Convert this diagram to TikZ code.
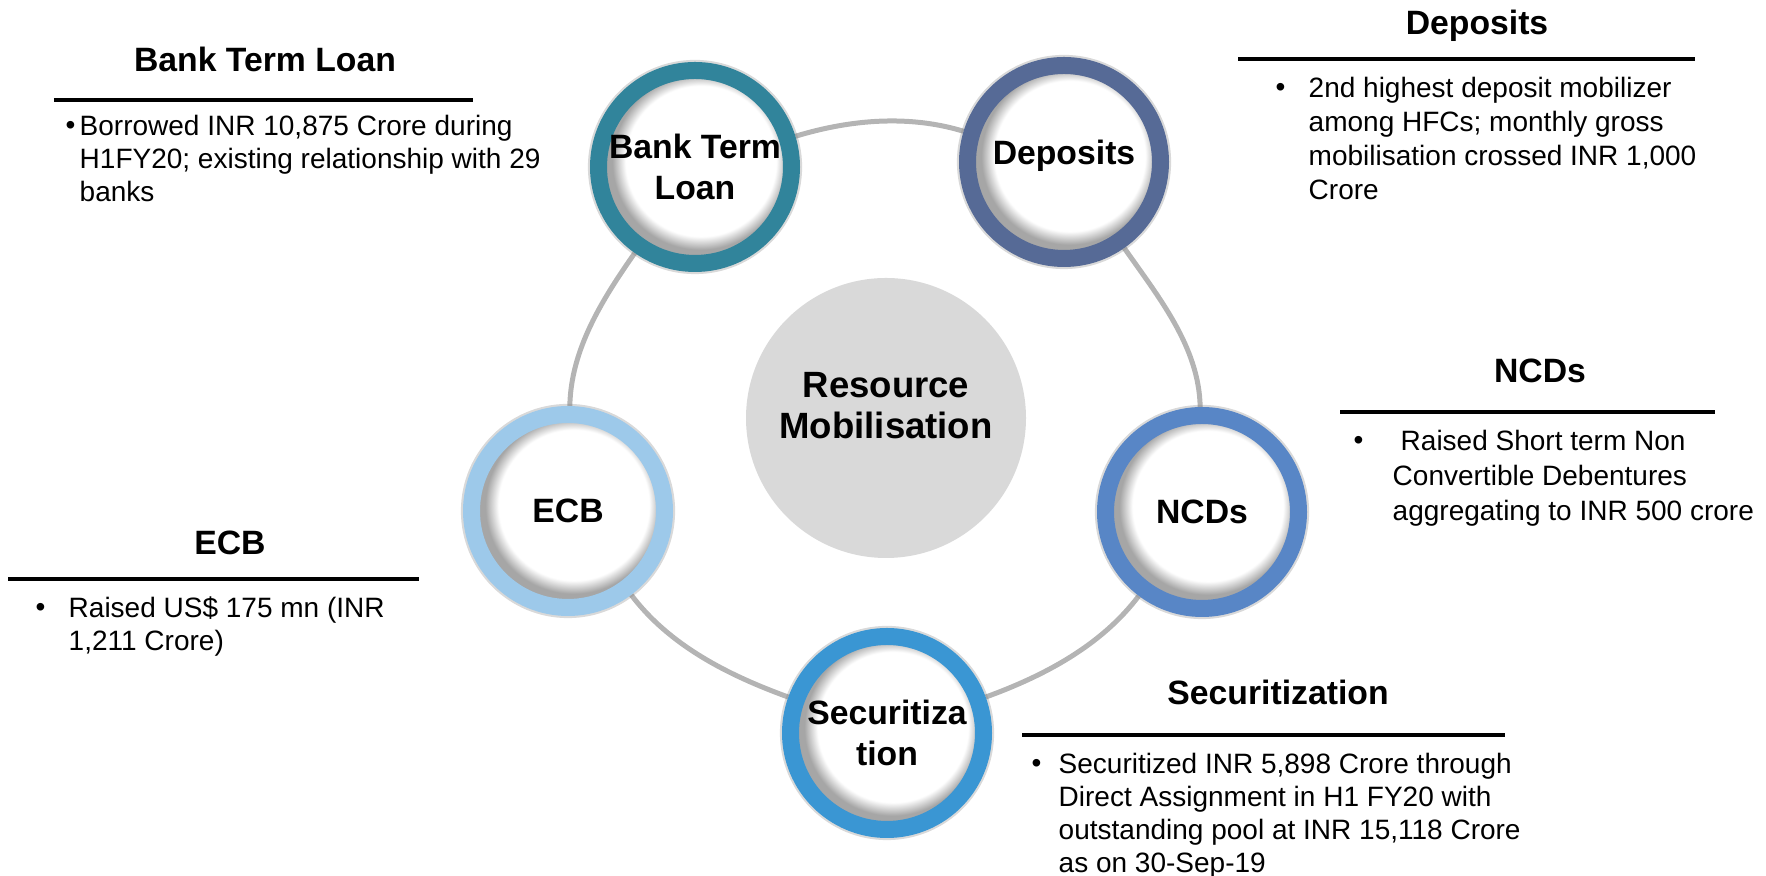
\documentclass[tikz,border=0pt]{standalone}
\usepackage{fontspec}
\setmainfont{Liberation Sans}
\usetikzlibrary{shadows, backgrounds}

\definecolor{hubgray}{HTML}{D9D9D9}
\definecolor{linkgray}{HTML}{B4B4B4}
\definecolor{btlteal}{HTML}{31849B}
\definecolor{depslate}{HTML}{566A96}
\definecolor{ncdblue}{HTML}{5886C6}
\definecolor{secblue}{HTML}{3A96D3}
\definecolor{ecbsky}{HTML}{9DC9EA}

\pgfdeclareradialshading{ringshade}{\pgfpoint{2.5bp}{2.5bp}}{color(0bp)=(white); color(19.5bp)=(white); color(22.8bp)=(black!35); color(50bp)=(black!35)}

\tikzstyle{hub} = [circle, minimum size=2.8cm, inner sep=0pt, fill=hubgray, align=center, text depth=0.26cm, font=\fontsize{10.4}{11.7}\selectfont\bfseries]
\tikzstyle{source} = [circle, minimum size=1.93cm, inner sep=0pt, line width=0.17cm, shade, shading=ringshade, align=center, font=\fontsize{9.6}{11.6}\selectfont\bfseries, drop shadow={shadow xshift=0pt, shadow yshift=0pt, shadow scale=1.11, opacity=0.3}]
\tikzstyle{link} = [draw=linkgray, line width=0.05cm, looseness=0.87]
\tikzstyle{heading} = [anchor=base, inner sep=0pt, font=\fontsize{9.6}{11.6}\selectfont\bfseries]
\tikzstyle{headrule} = [line width=0.035cm]
\tikzstyle{note} = [anchor=north west, inner sep=0pt, align=left, font=\fontsize{7.97}{9.4}\selectfont]
\tikzstyle{bulletmark} = [anchor=base west, inner sep=0pt, font=\fontsize{7.97}{9.4}\selectfont]

\begin{document}
\begin{tikzpicture}
            \useasboundingbox (0,0) rectangle (17.66,-8.76);

            \node [hub] at (8.86,-4.18) (hub) {Resource\\Mobilisation};
            \node [source, draw=btlteal] at (6.95,-1.67) (btl) {Bank Term\\Loan};
            \node [source, draw=depslate, text depth=0.2cm] at (10.64,-1.62) (dep) {Deposits};
            \node [source, draw=ncdblue] at (12.02,-5.12) (ncd) {NCDs};
            \node [source, draw=secblue] at (8.87,-7.33) (sec) {Securitiza\\tion};
            \node [source, draw=ecbsky] at (5.68,-5.11) (ecb) {ECB};

            \begin{scope}[on background layer]
            \draw [link] (btl) to[out=17, in=163] (dep);
            \draw [link] (dep) to[out=-55, in=91] (ncd);
            \draw [link] (ncd) to[out=-127, in=20] (sec);
            \draw [link] (sec) to[out=160, in=-53] (ecb);
            \draw [link] (ecb) to[out=89, in=-125] (btl);
            \end{scope}

            \node [heading] at (2.65,-0.72) (btlhead) {Bank Term Loan};
            \draw [headrule] (0.54,-1.00) -- (4.73,-1.00);
            \node [bulletmark] at (0.65,-1.35) (btldot) {\textbullet};
            \node [note] at (0.79,-1.145) (btlnote) {Borrowed INR 10,875 Crore during\\H1FY20; existing relationship with 29\\banks};

            \node [heading] at (14.77,-0.35) (dephead) {Deposits};
            \draw [headrule] (12.38,-0.59) -- (16.95,-0.59);
            \node [bulletmark] at (12.75,-0.97) (depdot) {\textbullet};
            \node [note, font=\fontsize{7.97}{9.7}\selectfont] at (13.08,-0.765) (depnote) {2nd highest deposit mobilizer\\among HFCs; monthly gross\\mobilisation crossed INR 1,000\\Crore};

            \node [heading] at (15.40,-3.83) (ncdhead) {NCDs};
            \draw [headrule] (13.40,-4.12) -- (17.15,-4.12);
            \node [bulletmark] at (13.53,-4.50) (ncddot) {\textbullet};
            \node [note, font=\fontsize{7.97}{9.9}\selectfont] at (13.92,-4.295) (ncdnote) {\hspace*{0.08cm}Raised Short term Non\\Convertible Debentures\\aggregating to INR 500 crore};

            \node [heading] at (2.30,-5.55) (ecbhead) {ECB};
            \draw [headrule] (0.08,-5.79) -- (4.19,-5.79);
            \node [bulletmark] at (0.35,-6.17) (ecbdot) {\textbullet};
            \node [note] at (0.68,-5.965) (ecbnote) {Raised US\$ 175 mn (INR\\1,211 Crore)};

            \node [heading] at (12.78,-7.05) (sechead) {Securitization};
            \draw [headrule] (10.22,-7.35) -- (15.05,-7.35);
            \node [bulletmark] at (10.31,-7.73) (secdot) {\textbullet};
            \node [note] at (10.58,-7.525) (secnote) {Securitized INR 5,898 Crore through\\Direct Assignment in H1 FY20 with\\outstanding pool at INR 15,118 Crore\\as on 30-Sep-19};
\end{tikzpicture}
\end{document}
